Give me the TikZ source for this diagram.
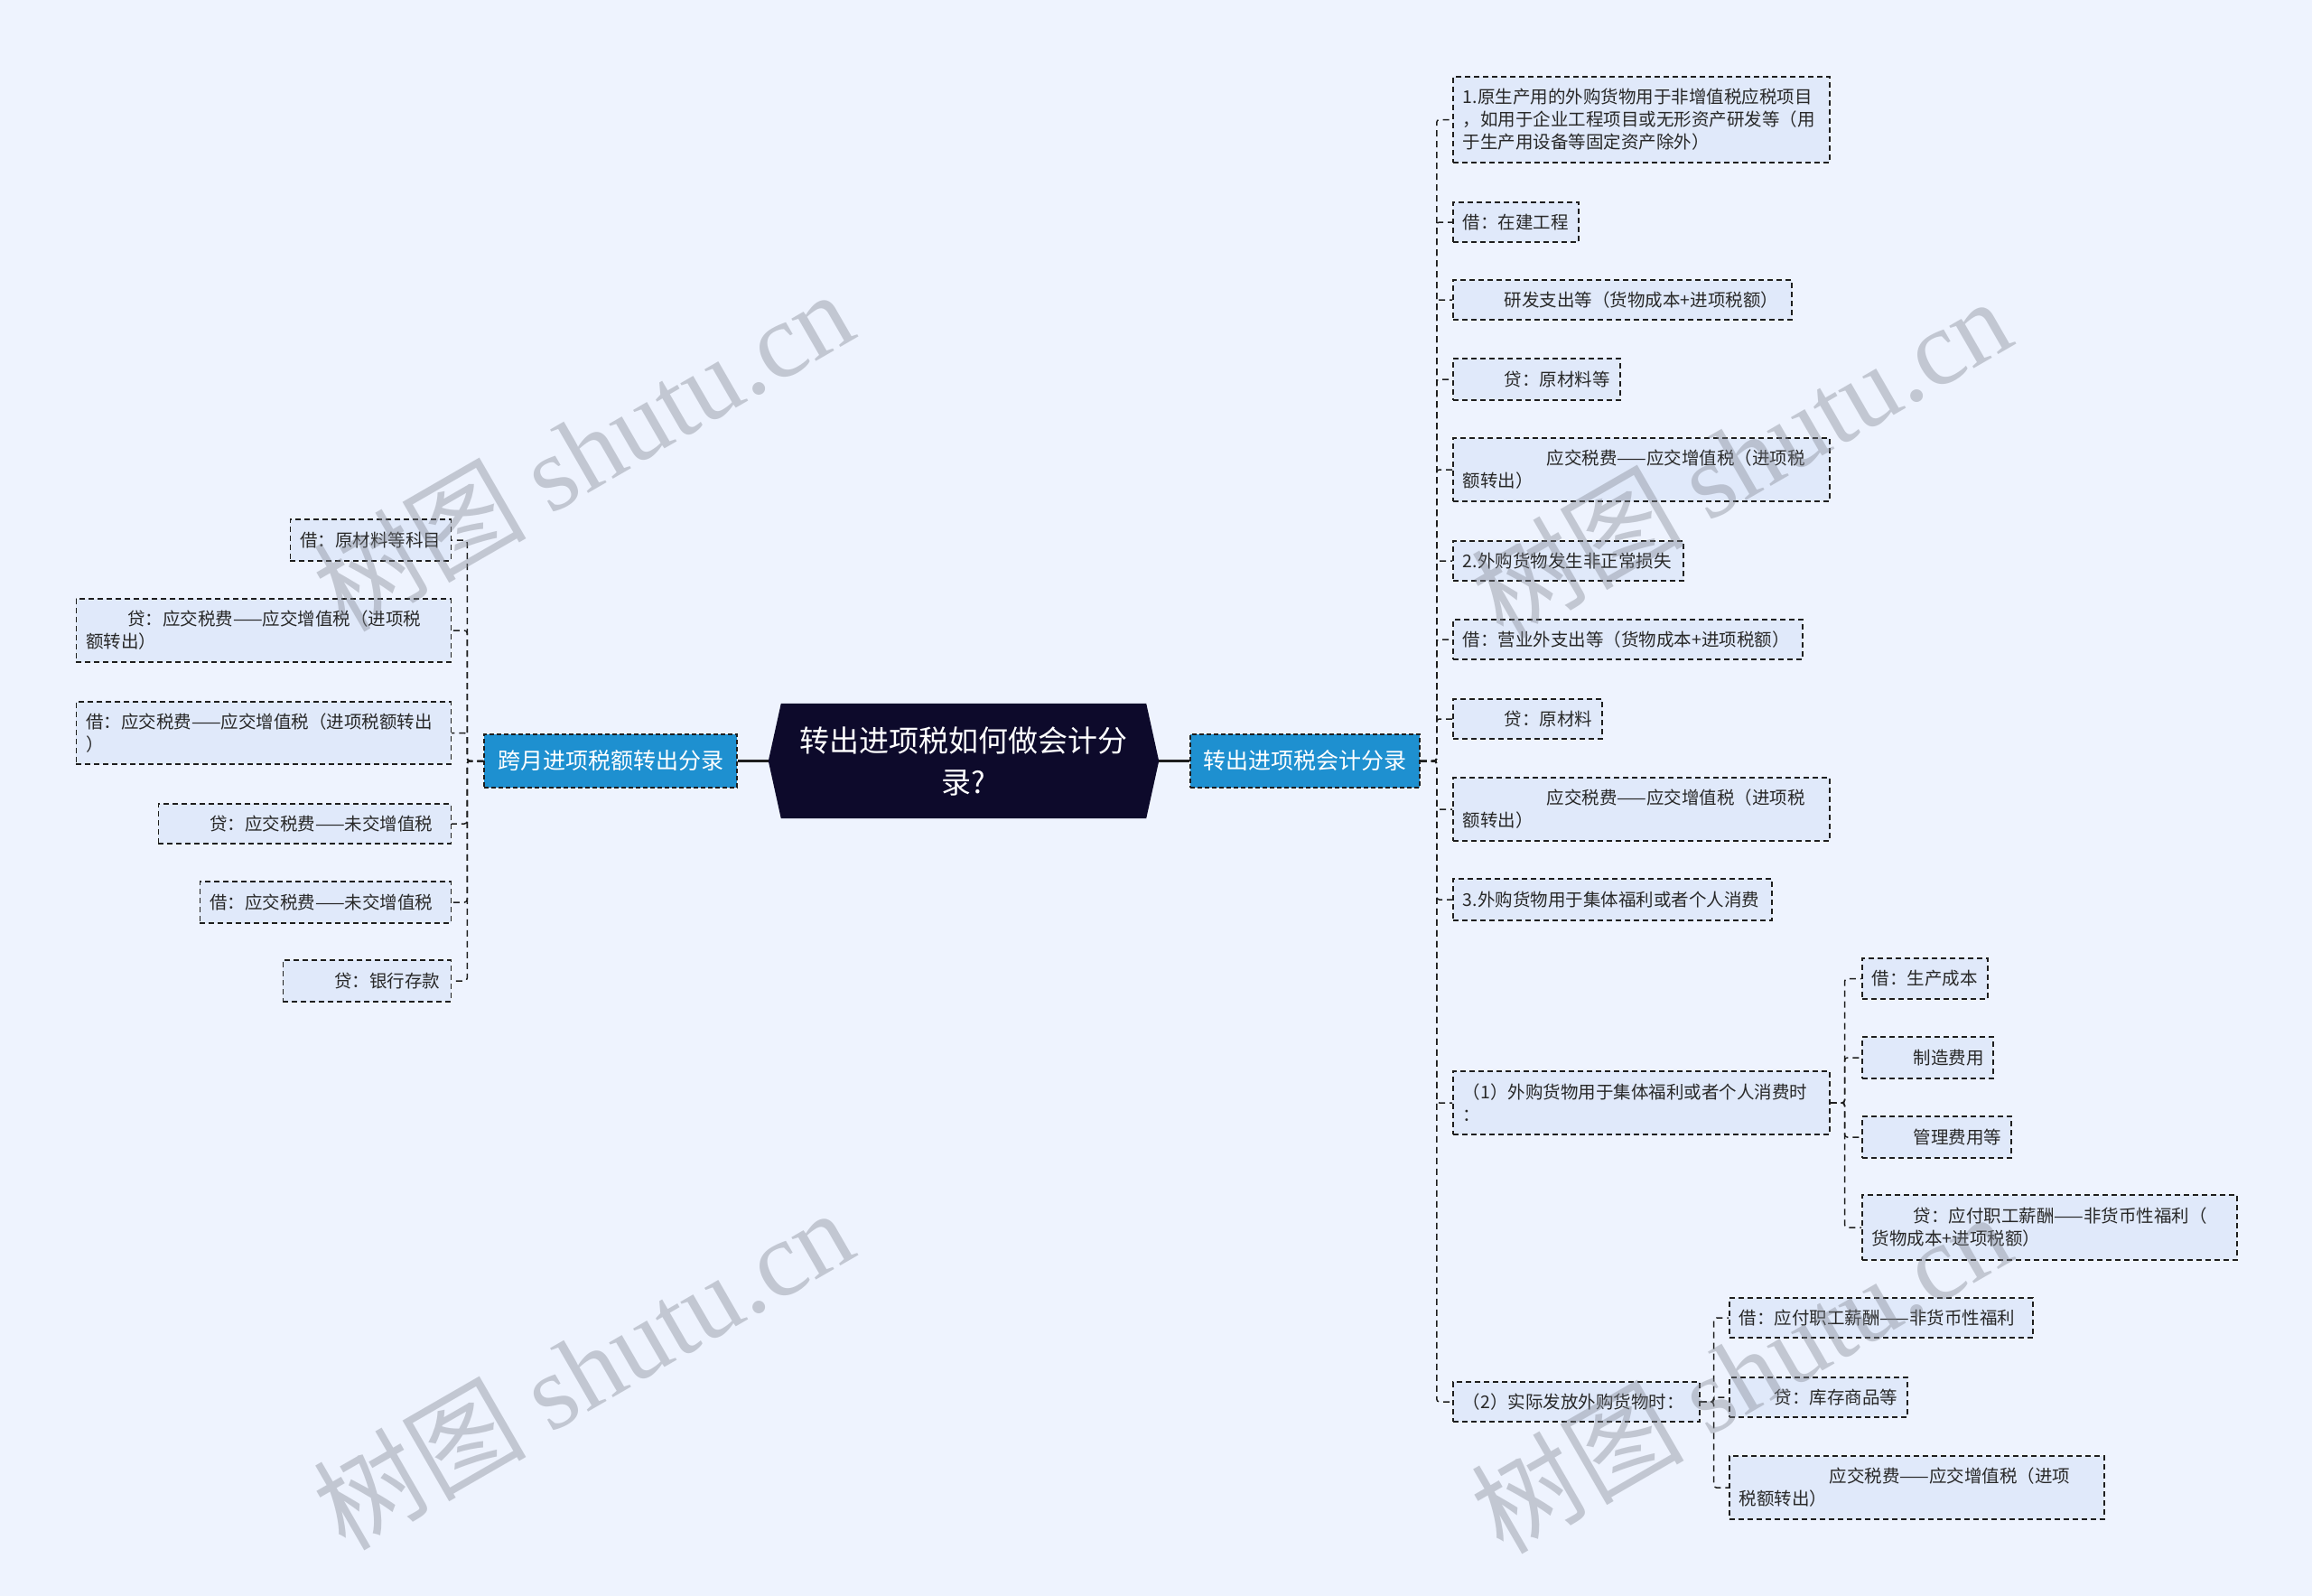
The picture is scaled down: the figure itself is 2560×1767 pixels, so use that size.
\documentclass[tikz,border=0pt]{standalone}
\usepackage{fontspec}
\setmainfont{Noto Sans CJK SC}
\newfontfamily\wmlatin{Liberation Serif}
\usetikzlibrary{backgrounds}
\definecolor{bgc}{RGB}{238,243,254}
\definecolor{leaffill}{RGB}{224,233,250}
\definecolor{branchc}{RGB}{30,144,208}
\definecolor{centralc}{RGB}{13,10,43}
\definecolor{linec}{RGB}{30,30,30}
\definecolor{textc}{RGB}{40,40,40}
\definecolor{wmc}{RGB}{130,135,146}
\newcommand\leaffont{\fontsize{19.5pt}{25pt}\selectfont}
\newcommand\centralfont{\fontsize{33pt}{46pt}\selectfont}
\newcommand\branchfont{\fontsize{25pt}{30pt}\selectfont}
\newcommand\wmfont{\fontsize{118pt}{120pt}\selectfont}
\begin{document}
\begin{tikzpicture}[x=1pt,y=-1pt,
  leaf/.style={draw=linec, line width=1.5pt, dash pattern=on 6pt off 4pt, fill=leaffill,
    inner xsep=11pt, inner ysep=3pt, align=left, font=\leaffont, text=textc},
  branch/.style={draw=linec, line width=1.5pt, dash pattern=on 5pt off 3pt, fill=branchc,
    text=white, font=\branchfont, inner sep=0pt, minimum height=59pt},
  conn/.style={draw=linec, line width=1.5pt, dash pattern=on 7pt off 5pt, rounded corners=3pt},
  mainline/.style={draw=linec, line width=3pt},
  wm/.style={text=wmc, opacity=0.4, font=\wmfont, rotate=30, inner sep=0pt}]
\begin{scope}[on background layer]
  \fill[bgc] (0,0) rectangle (2560,1767);
\end{scope}
\useasboundingbox (0,0) rectangle (2560,1767);

% central
\node[font=\centralfont, text=white, align=center, minimum width=432pt, minimum height=127pt, inner sep=0pt] (c) at (1067,842.5) {转出进项税如何做会计分\\录?};
\begin{scope}[on background layer]
  \fill[centralc] ([xshift=14pt]c.north west) -- ([xshift=-14pt]c.north east) -- (c.east)
    -- ([xshift=-14pt]c.south east) -- ([xshift=14pt]c.south west) -- (c.west) -- cycle;
\end{scope}

% branches
\node[branch, minimum width=280pt] (lb) at (676,842.5) {跨月进项税额转出分录};
\node[branch, minimum width=254pt] (rb) at (1445,842.5) {转出进项税会计分录};
\draw[mainline] (c.west) -- (lb.east);
\draw[mainline] (c.east) -- (rb.west);

% right leaves
\node[leaf, anchor=west, text width=395pt, minimum height=95pt] (R1) at (1608,132.5) {1.原生产用的外购货物用于非增值税应税项目\\，如用于企业工程项目或无形资产研发等（用\\于生产用设备等固定资产除外）};
\node[leaf, anchor=west, text width=117pt, minimum height=44pt] (R2) at (1608,246) {借：在建工程};
\node[leaf, anchor=west, text width=353pt, minimum height=44pt] (R3) at (1608,332) {\hspace*{46pt}研发支出等（货物成本+进项税额）};
\node[leaf, anchor=west, text width=163pt, minimum height=46pt] (R4) at (1608,420) {\hspace*{46pt}贷：原材料等};
\node[leaf, anchor=west, text width=395pt, minimum height=70pt] (R5) at (1608,520) {\hspace*{93pt}应交税费——应交增值税（进项税\\额转出）};
\node[leaf, anchor=west, text width=233pt, minimum height=44pt] (R6) at (1608,621) {2.外购货物发生非正常损失};
\node[leaf, anchor=west, text width=365pt, minimum height=44pt] (R7) at (1608,708) {借：营业外支出等（货物成本+进项税额）};
\node[leaf, anchor=west, text width=143pt, minimum height=44pt] (R8) at (1608,796) {\hspace*{46pt}贷：原材料};
\node[leaf, anchor=west, text width=395pt, minimum height=70pt] (R9) at (1608,896) {\hspace*{93pt}应交税费——应交增值税（进项税\\额转出）};
\node[leaf, anchor=west, text width=331pt, minimum height=46pt] (R10) at (1608,996) {3.外购货物用于集体福利或者个人消费};
\node[leaf, anchor=west, text width=395pt, minimum height=70pt] (R11) at (1608,1221) {（1）外购货物用于集体福利或者个人消费时\\：};
\node[leaf, anchor=west, text width=251pt, minimum height=44pt] (R12) at (1608,1552) {（2）实际发放外购货物时：};

% children of (1)
\node[leaf, anchor=west, text width=117pt, minimum height=45pt] (S1) at (2061,1083.5) {借：生产成本};
\node[leaf, anchor=west, text width=123pt, minimum height=46pt] (S2) at (2061,1171) {\hspace*{46pt}制造费用};
\node[leaf, anchor=west, text width=143pt, minimum height=46pt] (S3) at (2061,1259) {\hspace*{46pt}管理费用等};
\node[leaf, anchor=west, text width=393pt, minimum height=72pt] (S4) at (2061,1359) {\hspace*{46pt}贷：应付职工薪酬——非货币性福利（\\货物成本+进项税额）};

% children of (2)
\node[leaf, anchor=west, text width=314pt, minimum height=44pt] (T1) at (1914,1459) {借：应付职工薪酬——非货币性福利};
\node[leaf, anchor=west, text width=175pt, minimum height=44pt] (T2) at (1914,1547) {\hspace*{39pt}贷：库存商品等};
\node[leaf, anchor=west, text width=393pt, minimum height=70pt] (T3) at (1914,1647) {\hspace*{100pt}应交税费——应交增值税（进项\\税额转出）};

% left leaves
\node[leaf, anchor=east, text width=156pt, minimum height=46pt] (L1) at (500,598) {借：原材料等科目};
\node[leaf, anchor=east, text width=393pt, minimum height=70pt] (L2) at (500,698) {\hspace*{46pt}贷：应交税费——应交增值税（进项税\\额转出）};
\node[leaf, anchor=east, text width=393pt, minimum height=69pt] (L3) at (500,811.5) {借：应交税费——应交增值税（进项税额转出\\）};
\node[leaf, anchor=east, text width=302pt, minimum height=44pt] (L4) at (500,912) {\hspace*{46pt}贷：应交税费——未交增值税};
\node[leaf, anchor=east, text width=256pt, minimum height=46pt] (L5) at (500,999) {借：应交税费——未交增值税};
\node[leaf, anchor=east, text width=164pt, minimum height=46pt] (L6) at (500,1086) {\hspace*{46pt}贷：银行存款};

% connectors
\foreach \n in {R1,R2,R3,R4,R5,R6,R7,R8,R9,R10,R11,R12}
  \draw[conn] (rb.east) -- ++(18,0) |- (\n.west);
\foreach \n in {S1,S2,S3,S4}
  \draw[conn] (R11.east) -- ++(16,0) |- (\n.west);
\foreach \n in {T1,T2,T3}
  \draw[conn] (R12.east) -- ++(15,0) |- (\n.west);
\foreach \n in {L1,L2,L3,L4,L5,L6}
  \draw[conn] (lb.west) -- ++(-18,0) |- (\n.east);

% watermarks
\node[wm] (w1) at (645,498) {树图 {\wmlatin shutu.cn}};
\node[wm] (w2) at (1927,506) {树图 {\wmlatin shutu.cn}};
\node[wm] (w3) at (645,1515) {树图 {\wmlatin shutu.cn}};
\node[wm] (w4) at (1927,1519) {树图 {\wmlatin shutu.cn}};
\end{tikzpicture}
\end{document}
